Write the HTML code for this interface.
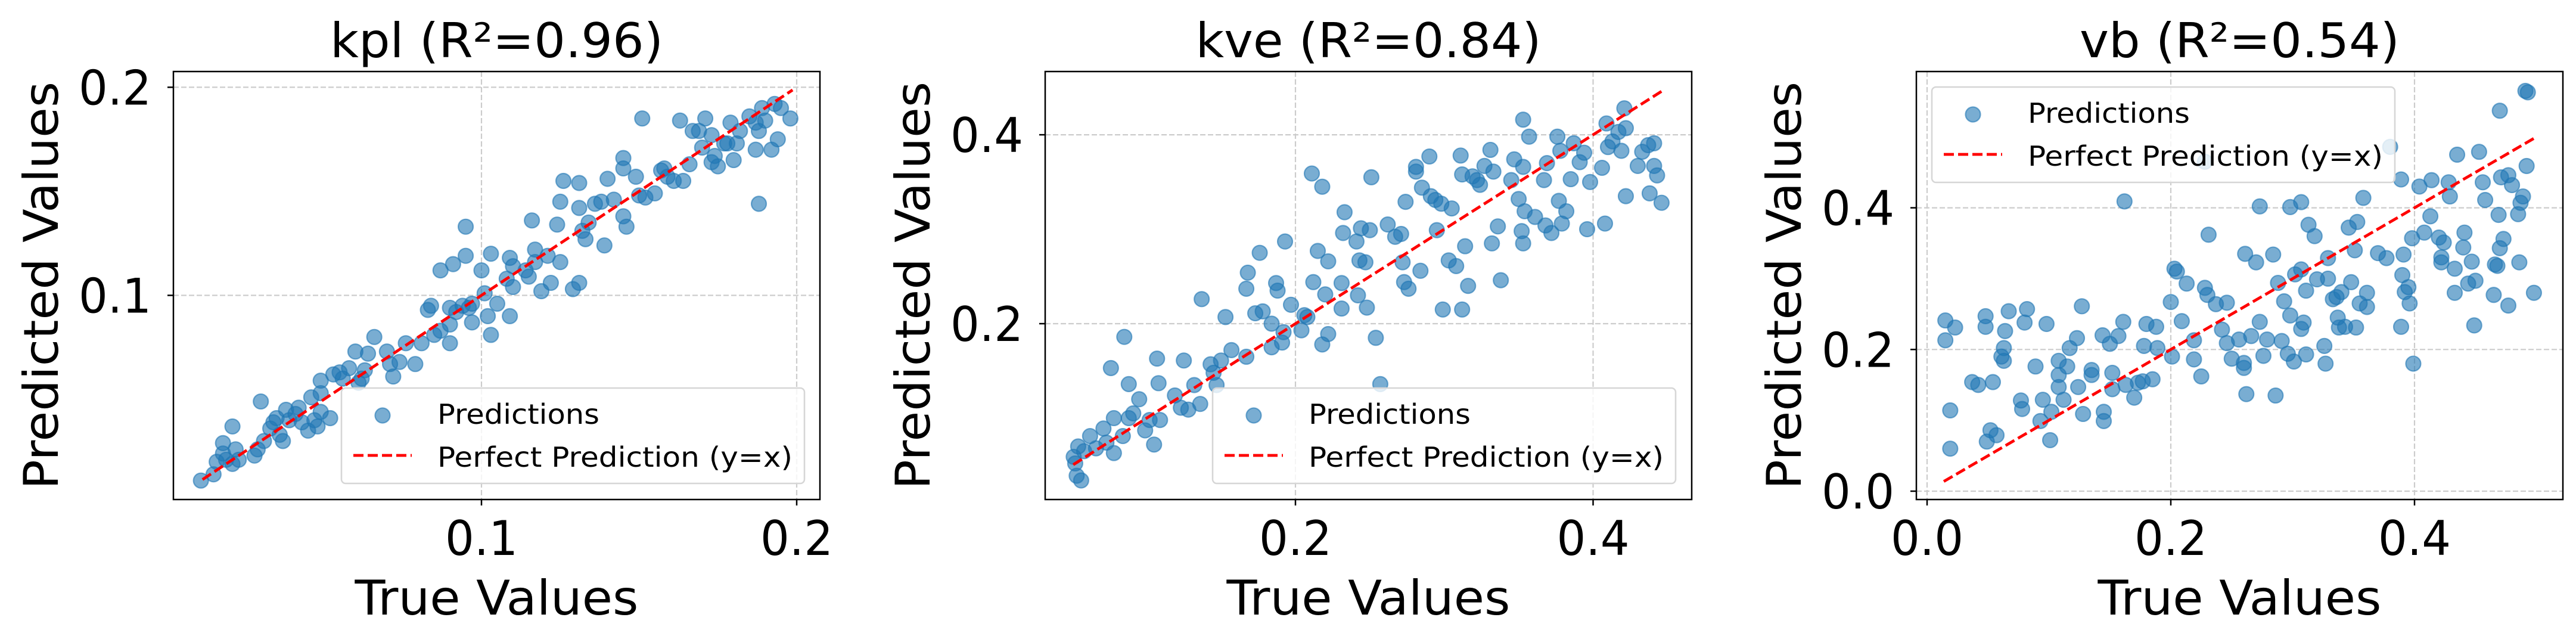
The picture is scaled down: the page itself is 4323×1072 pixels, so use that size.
<!DOCTYPE html>
<html><head><meta charset="utf-8"><style>
html,body{margin:0;padding:0;background:#fff}
svg{display:block}
text{font-family:"DejaVu Sans","Liberation Sans",sans-serif;fill:#000}
</style></head><body>
<svg id="chart" xmlns="http://www.w3.org/2000/svg" width="4323" height="1072" viewBox="0 0 4323 1072"></svg>
<script>
// ---- Panel 1: kpl ----
const kplTrue = [0.011,0.015,0.016,0.018,0.018,0.019,0.021,0.022,0.021,0.023,0.028,0.029,0.030,0.031,0.033,0.034,0.035,0.036,0.037,0.038,0.039,0.041,0.042,0.043,0.045,0.046,0.047,0.048,0.049,0.049,0.049,0.052,0.053,0.055,0.056,0.058,0.060,0.061,0.062,0.064,0.063,0.066,0.070,0.071,0.072,0.074,0.076,0.079,0.081,0.083,0.084,0.085,0.087,0.090,0.090,0.090,0.092,0.094,0.095,0.095,0.087,0.091,0.096,0.097,0.097,0.100,0.101,0.102,0.103,0.103,0.105,0.109,0.108,0.109,0.110,0.110,0.114,0.115,0.116,0.117,0.117,0.119,0.121,0.122,0.125,0.125,0.124,0.126,0.129,0.131,0.131,0.131,0.132,0.133,0.134,0.136,0.138,0.139,0.140,0.142,0.145,0.145,0.145,0.146,0.149,0.150,0.151,0.152,0.155,0.157,0.158,0.159,0.161,0.164,0.163,0.166,0.167,0.169,0.170,0.171,0.173,0.173,0.174,0.175,0.177,0.178,0.179,0.180,0.181,0.182,0.185,0.187,0.187,0.188,0.188,0.189,0.190,0.192,0.193,0.194,0.195,0.198];
const kplPred = [0.011,0.014,0.020,0.029,0.024,0.021,0.037,0.026,0.019,0.021,0.023,0.026,0.049,0.030,0.036,0.039,0.041,0.033,0.030,0.045,0.040,0.043,0.046,0.039,0.035,0.051,0.040,0.037,0.044,0.053,0.059,0.041,0.062,0.063,0.060,0.065,0.073,0.058,0.060,0.072,0.064,0.080,0.073,0.067,0.061,0.068,0.077,0.067,0.077,0.093,0.095,0.081,0.083,0.094,0.077,0.086,0.092,0.095,0.133,0.119,0.112,0.115,0.094,0.096,0.087,0.112,0.101,0.090,0.081,0.120,0.096,0.090,0.108,0.118,0.104,0.114,0.112,0.109,0.136,0.122,0.116,0.102,0.119,0.106,0.116,0.145,0.134,0.155,0.103,0.106,0.142,0.154,0.131,0.127,0.135,0.144,0.145,0.124,0.156,0.146,0.166,0.161,0.138,0.133,0.157,0.148,0.185,0.147,0.149,0.160,0.161,0.157,0.155,0.155,0.184,0.163,0.179,0.179,0.171,0.185,0.164,0.177,0.167,0.162,0.173,0.173,0.183,0.165,0.173,0.179,0.186,0.170,0.183,0.144,0.179,0.190,0.184,0.170,0.192,0.175,0.190,0.185];
const kplLine = [0.0115, 0.1987];
const kplXTicks = [0.1, 0.2];
const kplXTickLabels = ["0.1", "0.2"];
const kplYTicks = [0.1, 0.2];
const kplYTickLabels = ["0.1", "0.2"];

// ---- Panel 2: kve ----
const kveTrue = [0.051,0.052,0.053,0.056,0.054,0.058,0.062,0.066,0.071,0.073,0.078,0.078,0.084,0.088,0.091,0.095,0.099,0.102,0.105,0.109,0.085,0.076,0.088,0.107,0.108,0.119,0.123,0.125,0.128,0.132,0.136,0.137,0.143,0.145,0.147,0.150,0.153,0.157,0.167,0.167,0.168,0.176,0.173,0.178,0.184,0.184,0.187,0.188,0.191,0.193,0.192,0.197,0.204,0.206,0.208,0.211,0.212,0.215,0.218,0.218,0.220,0.222,0.222,0.231,0.231,0.232,0.233,0.241,0.242,0.243,0.244,0.247,0.248,0.250,0.251,0.254,0.257,0.262,0.267,0.271,0.272,0.273,0.274,0.276,0.281,0.281,0.284,0.285,0.290,0.291,0.294,0.295,0.298,0.299,0.303,0.305,0.308,0.311,0.312,0.312,0.314,0.316,0.319,0.322,0.324,0.327,0.331,0.332,0.333,0.336,0.338,0.345,0.347,0.350,0.352,0.353,0.353,0.353,0.354,0.357,0.361,0.367,0.368,0.369,0.372,0.376,0.377,0.378,0.379,0.382,0.385,0.387,0.391,0.394,0.396,0.398,0.406,0.408,0.409,0.410,0.413,0.417,0.419,0.421,0.422,0.422,0.430,0.433,0.437,0.438,0.441,0.441,0.443,0.446];
const kvePred = [0.059,0.052,0.039,0.034,0.070,0.065,0.081,0.068,0.089,0.074,0.063,0.100,0.081,0.100,0.105,0.120,0.087,0.098,0.072,0.098,0.186,0.153,0.136,0.163,0.137,0.124,0.111,0.161,0.109,0.135,0.115,0.226,0.157,0.148,0.135,0.161,0.207,0.172,0.165,0.237,0.254,0.275,0.211,0.213,0.200,0.175,0.243,0.235,0.180,0.287,0.191,0.220,0.193,0.209,0.207,0.359,0.244,0.277,0.345,0.178,0.231,0.266,0.189,0.243,0.216,0.296,0.318,0.287,0.230,0.267,0.301,0.265,0.217,0.299,0.355,0.185,0.136,0.305,0.292,0.295,0.265,0.244,0.329,0.237,0.361,0.366,0.256,0.344,0.377,0.335,0.331,0.299,0.327,0.215,0.267,0.322,0.261,0.378,0.358,0.215,0.282,0.240,0.356,0.352,0.347,0.367,0.384,0.285,0.361,0.303,0.246,0.352,0.374,0.332,0.298,0.285,0.416,0.366,0.319,0.398,0.313,0.352,0.304,0.370,0.296,0.398,0.330,0.383,0.306,0.319,0.353,0.391,0.371,0.381,0.300,0.350,0.365,0.306,0.412,0.387,0.393,0.403,0.383,0.428,0.407,0.335,0.367,0.382,0.389,0.338,0.391,0.367,0.357,0.328];
const kveLine = [0.0507, 0.447];
const kveXTicks = [0.2, 0.4];
const kveXTickLabels = ["0.2", "0.4"];
const kveYTicks = [0.2, 0.4];
const kveYTickLabels = ["0.2", "0.4"];

// ---- Panel 3: vb ----
const vbTrue = [0.015,0.015,0.023,0.019,0.019,0.037,0.042,0.048,0.048,0.054,0.049,0.052,0.057,0.061,0.063,0.063,0.064,0.067,0.080,0.082,0.089,0.095,0.098,0.093,0.101,0.102,0.077,0.078,0.108,0.108,0.108,0.112,0.115,0.117,0.123,0.124,0.127,0.128,0.135,0.135,0.144,0.145,0.145,0.150,0.152,0.152,0.157,0.161,0.163,0.162,0.170,0.173,0.177,0.178,0.180,0.185,0.188,0.189,0.200,0.201,0.203,0.205,0.209,0.213,0.219,0.219,0.225,0.228,0.230,0.231,0.237,0.242,0.246,0.246,0.250,0.256,0.260,0.260,0.261,0.262,0.266,0.270,0.273,0.273,0.276,0.279,0.284,0.286,0.288,0.291,0.293,0.296,0.298,0.298,0.301,0.302,0.307,0.307,0.307,0.309,0.311,0.311,0.313,0.318,0.320,0.326,0.327,0.329,0.329,0.333,0.336,0.337,0.338,0.340,0.343,0.346,0.348,0.351,0.352,0.353,0.355,0.358,0.361,0.361,0.370,0.377,0.389,0.389,0.390,0.391,0.392,0.395,0.396,0.398,0.399,0.404,0.408,0.413,0.414,0.420,0.422,0.422,0.424,0.428,0.429,0.433,0.433,0.435,0.440,0.441,0.444,0.447,0.449,0.450,0.453,0.456,0.458,0.465,0.466,0.468,0.469,0.470,0.470,0.471,0.473,0.477,0.477,0.480,0.485,0.486,0.487,0.489,0.491,0.492,0.493,0.498,0.228,0.380];
const vbPred = [0.241,0.213,0.231,0.114,0.060,0.154,0.150,0.247,0.232,0.154,0.070,0.086,0.079,0.190,0.202,0.184,0.226,0.254,0.238,0.257,0.176,0.129,0.236,0.099,0.072,0.112,0.128,0.116,0.184,0.164,0.147,0.129,0.176,0.202,0.216,0.147,0.261,0.109,0.171,0.164,0.220,0.112,0.099,0.208,0.167,0.144,0.219,0.239,0.150,0.409,0.132,0.153,0.155,0.205,0.236,0.158,0.232,0.202,0.267,0.190,0.314,0.310,0.240,0.293,0.213,0.186,0.162,0.287,0.277,0.362,0.264,0.228,0.209,0.266,0.187,0.214,0.181,0.174,0.335,0.137,0.219,0.323,0.239,0.402,0.191,0.214,0.334,0.135,0.294,0.212,0.268,0.194,0.248,0.401,0.183,0.306,0.408,0.229,0.313,0.238,0.283,0.193,0.376,0.360,0.299,0.205,0.180,0.329,0.300,0.271,0.274,0.245,0.231,0.281,0.232,0.372,0.295,0.340,0.231,0.380,0.265,0.414,0.260,0.280,0.336,0.329,0.232,0.440,0.305,0.334,0.281,0.288,0.265,0.357,0.180,0.430,0.365,0.388,0.439,0.358,0.330,0.323,0.351,0.436,0.416,0.314,0.280,0.475,0.344,0.365,0.293,0.324,0.234,0.297,0.479,0.436,0.411,0.277,0.320,0.318,0.390,0.343,0.537,0.443,0.356,0.446,0.262,0.432,0.391,0.323,0.407,0.416,0.565,0.459,0.563,0.280,0.465,0.486];
const vbLine = [0.0137, 0.4987];
const vbXTicks = [0.0, 0.2, 0.4];
const vbXTickLabels = ["0.0", "0.2", "0.4"];
const vbYTicks = [0.0, 0.2, 0.4];
const vbYTickLabels = ["0.0", "0.2", "0.4"];

const NS = "http://www.w3.org/2000/svg";
const svg = document.getElementById("chart");
function mk(tag, attrs, parent) {
  const e = document.createElementNS(NS, tag);
  for (const k in attrs) e.setAttribute(k, attrs[k]);
  (parent || svg).appendChild(e);
  return e;
}

function panel(cfg) {
  const g = mk("g", {});
  
  
  const L = cfg.left, R = cfg.right, T = 120, B = 838;
  const sx = v => cfg.x0px + (v - cfg.x0v) * cfg.xs;
  const sy = v => cfg.y0px - (v - cfg.y0v) * cfg.ys;
  cfg.xTicks.forEach(v => {
    const l = mk("line", {x1: sx(v), x2: sx(v), y1: T, y2: B, stroke: "#cccccc", "stroke-width": 2.2, "stroke-dasharray": "9 4"}, g);
    
    
  });
  cfg.yTicks.forEach(v => {
    const l = mk("line", {x1: L, x2: R, y1: sy(v), y2: sy(v), stroke: "#cccccc", "stroke-width": 2.2, "stroke-dasharray": "9 4"}, g);
    
    
  });
  const pg = mk("g", {}, g);
  
  
  cfg.xv.forEach((v, i) => {
    const c = mk("circle", {cx: sx(v), cy: sy(cfg.yv[i]), r: 12.5, fill: "#1f77b4", "fill-opacity": 0.6, stroke: "#1f77b4", "stroke-opacity": 0.6, "stroke-width": 2.2}, pg);
    
    
  });
  const pl = mk("line", {x1: sx(cfg.line[0]), y1: sy(cfg.line[0]), x2: sx(cfg.line[1]), y2: sy(cfg.line[1]), stroke: "#ff0000", "stroke-width": 4.8, "stroke-dasharray": "17 7"}, g);
  
  
  const fr = mk("rect", {x: L, y: T, width: R - L, height: B - T, fill: "none", stroke: "#000", "stroke-width": 2.5}, g);
  
  
  cfg.xTicks.forEach((v, i) => {
    const t = mk("line", {x1: sx(v), x2: sx(v), y1: B, y2: B + 10, stroke: "#000", "stroke-width": 2.5}, g);
    
    
    const tx = mk("text", {x: sx(v), y: 931, "font-size": 80, "text-anchor": "middle", textLength: 122, lengthAdjust: "spacingAndGlyphs"}, g);
    tx.textContent = cfg.xLabels[i];
    
    
  });
  cfg.yTicks.forEach((v, i) => {
    const t = mk("line", {x1: L - 10, x2: L, y1: sy(v), y2: sy(v), stroke: "#000", "stroke-width": 2.5}, g);
    
    
    const tx = mk("text", {x: L - 37 - 122, y: sy(v) + 29, "font-size": 80, textLength: 122, lengthAdjust: "spacingAndGlyphs"}, g);
    tx.textContent = cfg.yLabels[i];
    
    
  });
  const cx = (L + R) / 2;
  const ti = mk("text", {x: cx, y: 96, "font-size": 80, "text-anchor": "middle", textLength: cfg.titleW, lengthAdjust: "spacingAndGlyphs"}, g);
  ti.textContent = cfg.title;
  
  
  const xl = mk("text", {x: cx, y: 1031, "font-size": 80, "text-anchor": "middle", textLength: 476, lengthAdjust: "spacingAndGlyphs"}, g);
  xl.textContent = "True Values";
  
  
  const yx = L - 194, yy = (T + B) / 2;
  const yl = mk("text", {x: yx, y: yy, "font-size": 80, "text-anchor": "middle", textLength: 684, lengthAdjust: "spacingAndGlyphs", transform: `rotate(-90 ${yx} ${yy})`}, g);
  yl.textContent = "Predicted Values";
  
  
  const lx = cfg.legX, ly = cfg.legY;
  const lg = mk("g", {}, g);
  
  
  mk("rect", {x: lx, y: ly, width: 777, height: 160, rx: 7, fill: "#fff", "fill-opacity": 0.8, stroke: "#d6d6d6", "stroke-width": 2.5}, lg);
  const lm = mk("circle", {cx: lx + 69, cy: ly + 46, r: 12.5, fill: "#1f77b4", "fill-opacity": 0.6, stroke: "#1f77b4", "stroke-opacity": 0.6, "stroke-width": 2.2}, lg);
  
  
  const t1 = mk("text", {x: lx + 161, y: ly + 60, "font-size": 46, textLength: 272, lengthAdjust: "spacingAndGlyphs"}, lg);
  t1.textContent = "Predictions";
  
  
  const ll = mk("line", {x1: lx + 20, x2: lx + 118, y1: ly + 113, y2: ly + 113, stroke: "#ff0000", "stroke-width": 4.8, "stroke-dasharray": "17 7"}, lg);
  
  
  const t2 = mk("text", {x: lx + 161, y: ly + 132, "font-size": 46, textLength: 596, lengthAdjust: "spacingAndGlyphs"}, lg);
  t2.textContent = "Perfect Prediction (y=x)";
  
  
}

panel({name: "kpl", left: 291, right: 1376, x0px: 808, x0v: 0.1, xs: 5290, y0px: 495.5, y0v: 0.1, ys: 3491,
  xv: kplTrue, yv: kplPred, line: kplLine, xTicks: kplXTicks, xLabels: kplXTickLabels, yTicks: kplYTicks, yLabels: kplYTickLabels,
  title: "kpl (R²=0.96)", titleW: 559, legX: 573, legY: 651});
panel({name: "kve", left: 1754, right: 2839, x0px: 2174, x0v: 0.2, xs: 2497.5, y0px: 543, y0v: 0.2, ys: 1584.5,
  xv: kveTrue, yv: kvePred, line: kveLine, xTicks: kveXTicks, xLabels: kveXTickLabels, yTicks: kveYTicks, yLabels: kveYTickLabels,
  title: "kve (R²=0.84)", titleW: 580, legX: 2035, legY: 651});
panel({name: "vb", left: 3216, right: 4301, x0px: 3234, x0v: 0.0, xs: 2045, y0px: 824, y0v: 0.0, ys: 1188.5,
  xv: vbTrue, yv: vbPred, line: vbLine, xTicks: vbXTicks, xLabels: vbXTickLabels, yTicks: vbYTicks, yLabels: vbYTickLabels,
  title: "vb (R²=0.54)", titleW: 537, legX: 3242, legY: 146});
</script>
</body></html>
